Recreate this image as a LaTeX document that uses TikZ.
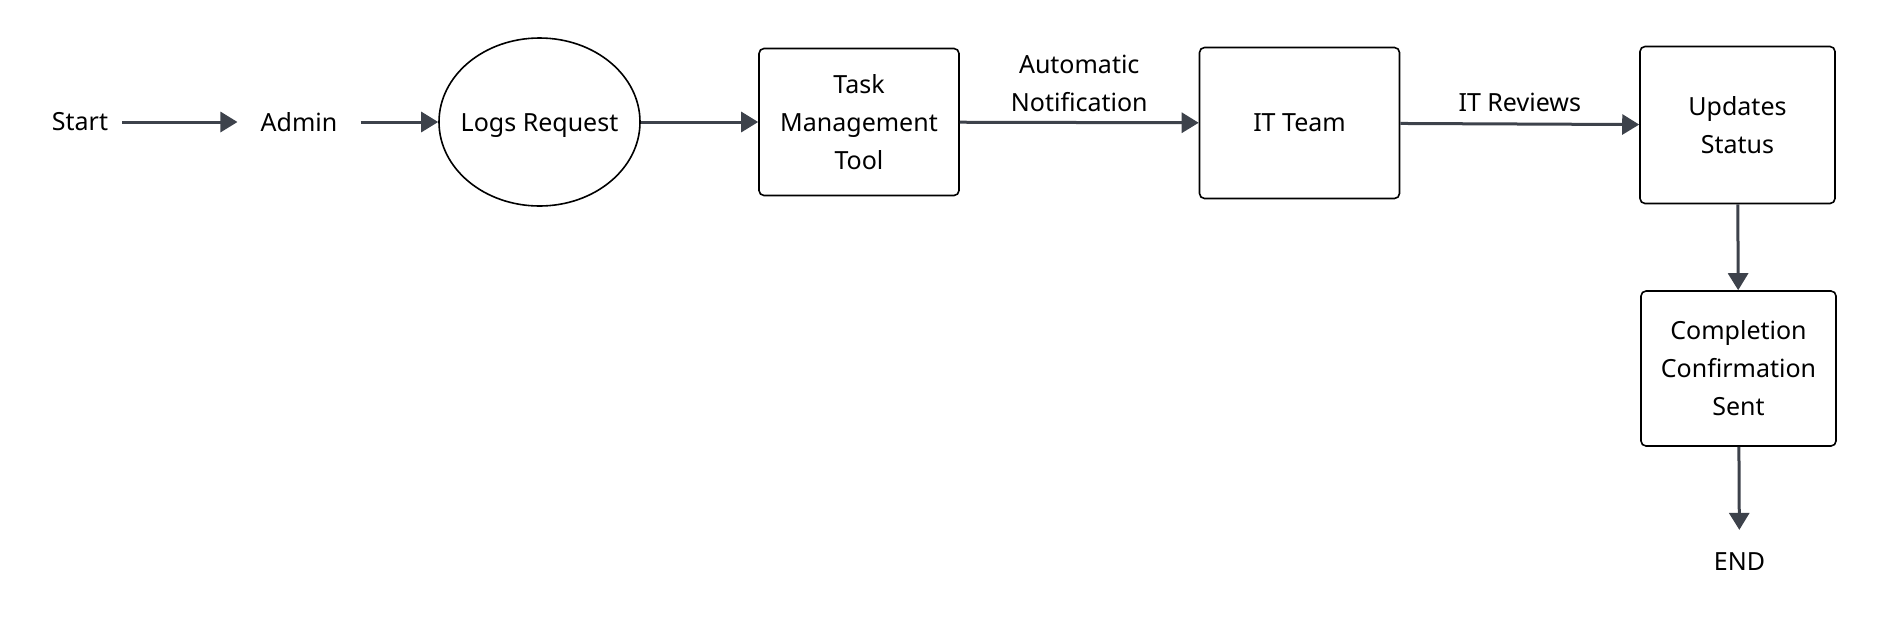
\documentclass[tikz,border=0pt]{standalone}
\usepackage{fontspec}
\setmainfont{Noto Sans}
\usetikzlibrary{shapes.geometric,arrows.meta}
\definecolor{flowline}{HTML}{3D424B}
\begin{document}
\begin{tikzpicture}[
        font=\fontsize{25pt}{38pt}\selectfont,
        stepbox/.style={rectangle, draw, line width=1.6pt, rounded corners=5pt, align=center, inner sep=0, minimum width=200pt},
        ovalbox/.style={ellipse, draw, line width=1.6pt, inner sep=0, minimum width=201pt, minimum height=168pt},
        plain/.style={inner ysep=0},
        flow/.style={draw=flowline, line width=3pt, -{Triangle[length=17pt,width=20pt]}},
        flowtag/.style={inner sep=0, align=center},
    ]
    \useasboundingbox (0pt,0pt) rectangle (1900pt,-633pt);
    \node[plain, inner xsep=14pt] (Start) at (80pt,-122pt) {Start};
    \node[plain, inner xsep=23pt] (Admin) at (299pt,-122pt) {Admin};
    \node[ovalbox, label={[yshift=-4pt]center:Logs Request}] (Logs) at (539.5pt,-122pt) {};
    \node[stepbox, minimum height=147pt] (Task) at (859pt,-122pt) {Task\\Management\\Tool};
    \node[stepbox, minimum height=151pt] (ITTeam) at (1299.5pt,-123pt) {IT Team};
    \node[stepbox, minimum width=195pt, minimum height=157pt] (Updates) at (1737.5pt,-125pt) {Updates\\Status};
    \node[stepbox, minimum width=195pt, minimum height=155pt] (Confirm) at (1738.5pt,-368.5pt) {Completion\\Confirmation\\Sent};
    \node[inner xsep=0, inner ysep=23pt] (End) at (1739.5pt,-562pt) {END};
    % connectors
    \draw[flow] (Start) -- (Admin);
    \draw[flow] (Admin) -- (Logs);
    \draw[flow] (Logs) -- (Task);
    \draw[flow] (Task) -- node[flowtag, above=9pt] {Automatic\\Notification} (ITTeam);
    \draw[flow] (ITTeam) -- node[flowtag, above=11pt] {IT Reviews} (Updates);
    \draw[flow] (Updates) -- (Confirm);
    \draw[flow] (Confirm) -- (End);
\end{tikzpicture}
\end{document}
